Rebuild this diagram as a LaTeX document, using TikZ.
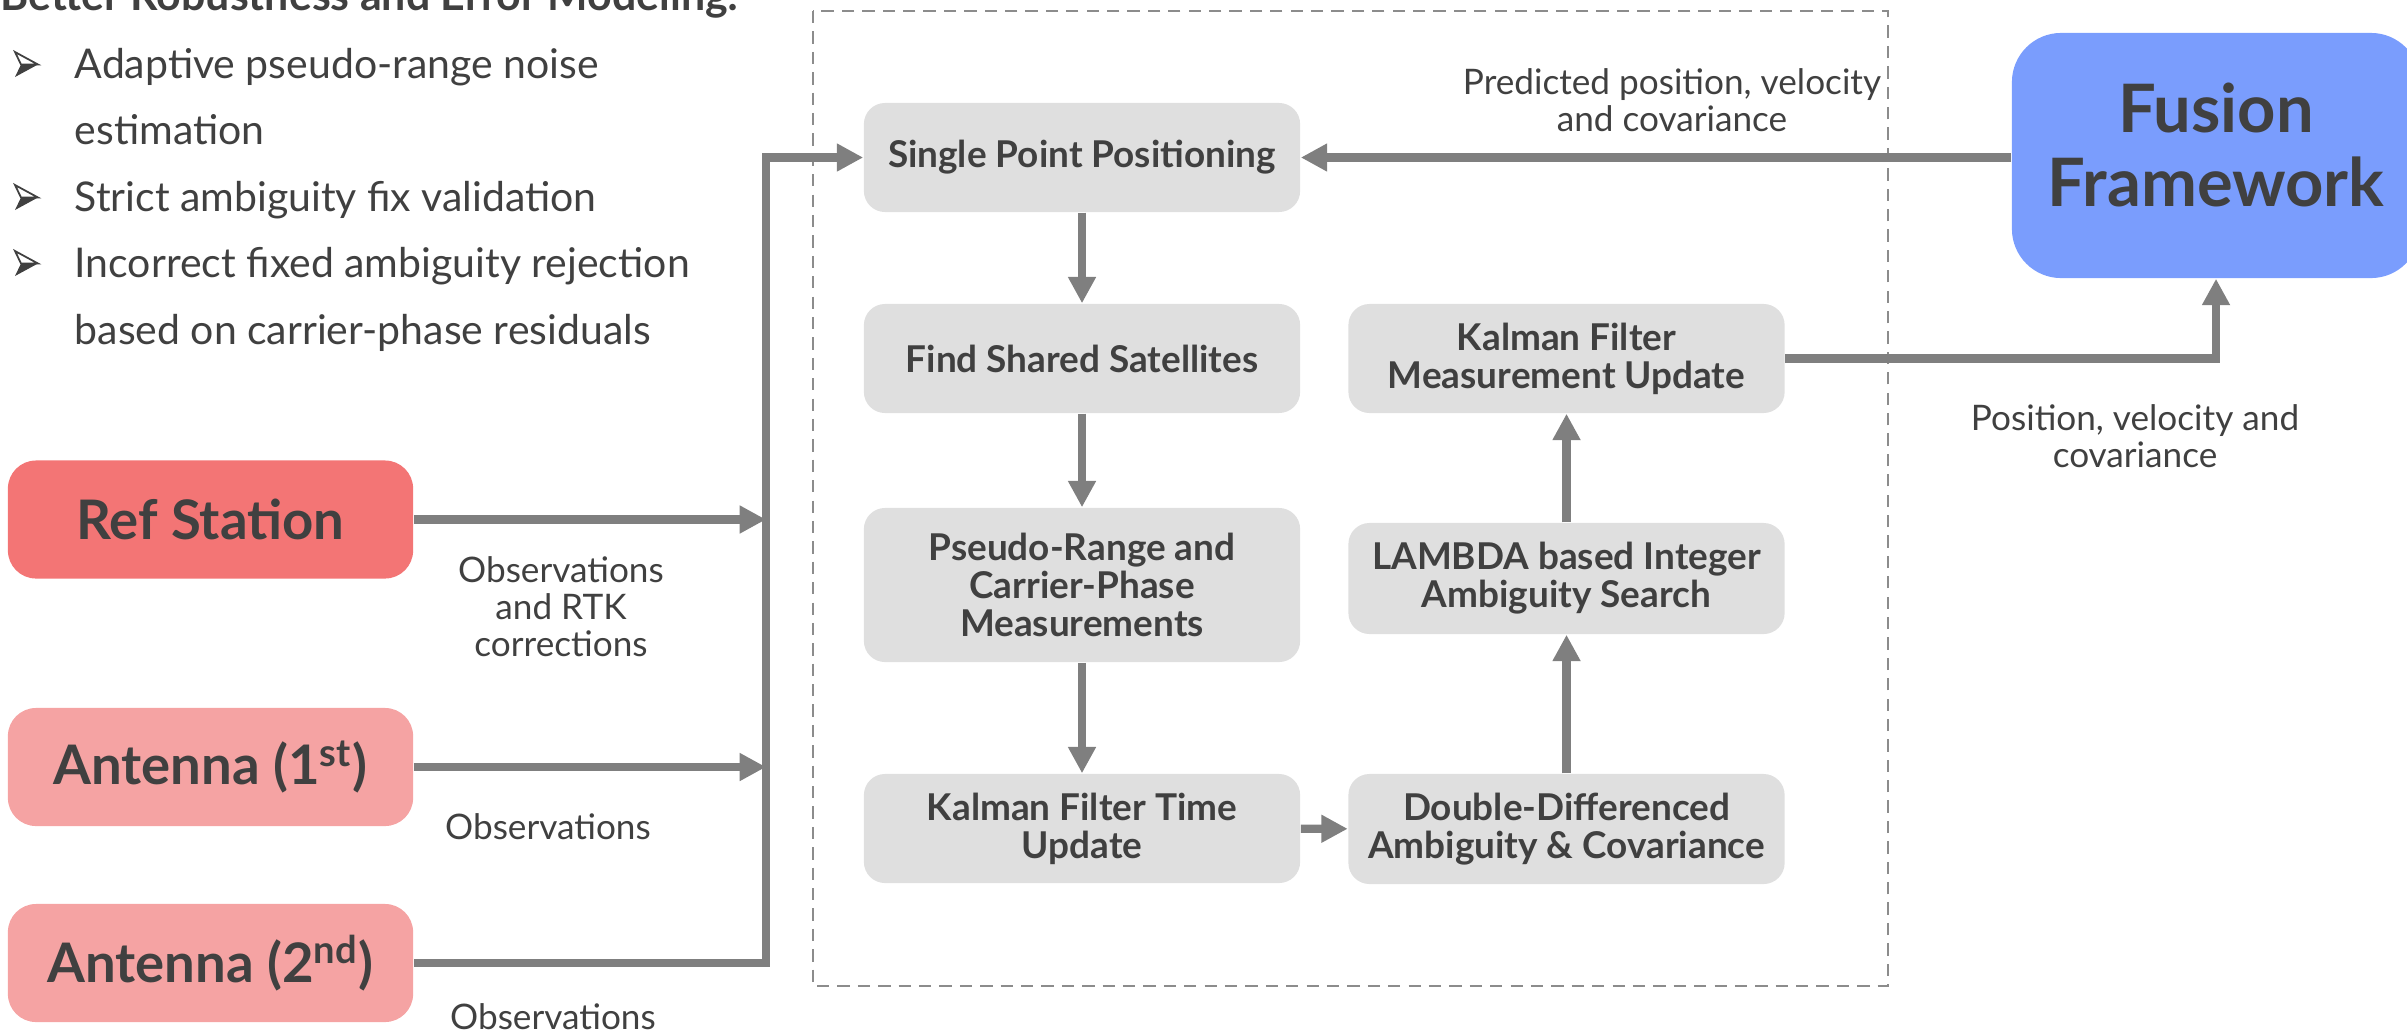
\documentclass[tikz,border=0pt]{standalone}
\usepackage{fontspec}
\setmainfont{Lato}
\usetikzlibrary{arrows.meta}
\definecolor{txt}{HTML}{404040}
\definecolor{arrowgray}{HTML}{7F7F7F}
\definecolor{dashgray}{HTML}{8C8C8C}
\definecolor{boxgray}{HTML}{DFDFDF}
\definecolor{refred}{HTML}{F37575}
\definecolor{antpink}{HTML}{F5A3A3}
\definecolor{fusionblue}{HTML}{7A9DFD}
\tikzset{
  procbox/.style={fill=boxgray, rounded corners=6pt, text=txt, align=center, inner sep=0pt,
    minimum width=4.36cm, font=\bfseries\fontsize{10.5pt}{10.8pt}\selectfont},
  srcbox/.style={rounded corners=8pt, text=txt, align=center, inner sep=0pt,
    minimum width=4.05cm, minimum height=1.18cm, font=\bfseries\fontsize{15.5pt}{18pt}\selectfont},
  arr/.style={draw=arrowgray, line width=2.4pt, -{Triangle[length=7.5pt,width=7.5pt]}},
  lbl/.style={text=txt, align=center, inner sep=0pt, font=\fontsize{10pt}{10.5pt}\selectfont},
  bul/.style={text=txt, anchor=base west, inner sep=0pt, font=\fontsize{11.65pt}{13pt}\selectfont},
  bulletmark/.pic={
    \draw[txt, line width=0.5pt, line join=miter, fill=white] (0,0) -- (23,12.5) -- (6,12.5) -- cycle;
    \fill[txt] (6,12.5) -- (23,12.5) -- (0,25) -- cycle;
  }
}
\begin{document}
\begin{tikzpicture}[x=0.01cm, y=-0.01cm]
\useasboundingbox (0,0) rectangle (2407,1030);

% heading and bullet list
\node[bul, font=\bfseries\fontsize{12.2pt}{13pt}\selectfont] (title) at (0,10) {Better Robustness and Error Modeling:};
\foreach \yb in {78,211,277} { \pic at (15,\yb-26) {bulletmark}; }
\node[bul] (b1) at (74,78) {Adaptive pseudo-range noise};
\node[bul] (b1b) at (74,144) {estimation};
\node[bul] (b2) at (74,211) {Strict ambiguity fix validation};
\node[bul] (b3) at (74,277) {Incorrect fixed ambiguity rejection};
\node[bul] (b3b) at (74,344) {based on carrier-phase residuals};

% processing block frame
\draw[draw=dashgray, line width=0.6pt, dash pattern=on 3.5pt off 2.3pt] (813,11) rectangle (1888,986);

% sources
\node[srcbox, fill=refred] (ref) at (210.5,519.5) {Ref Station};
\node[srcbox, fill=antpink] (ant1) at (210.5,767) {Antenna (1\textsuperscript{st})};
\node[srcbox, fill=antpink] (ant2) at (210.5,963) {Antenna (2\textsuperscript{nd})};

% fusion framework
\node[fill=fusionblue, rounded corners=14pt, inner sep=0pt,
  minimum width=4.08cm, minimum height=2.45cm] (fusion) at (2216,155.5) {};
\node[text=txt, align=center, inner sep=0pt,
  font=\bfseries\fontsize{19pt}{21pt}\selectfont] (fusiontxt) at (2216,145) {Fusion\\Framework};

% processing steps
\node[procbox, minimum height=1.09cm] (spp) at (1082,157.5) {Single Point Positioning};
\node[procbox, minimum height=1.09cm] (fss) at (1082,358.5) {Find Shared Satellites};
\node[procbox, minimum height=1.54cm] (prc) at (1082,585) {Pseudo-Range and\\Carrier-Phase\\Measurements};
\node[procbox, minimum height=1.09cm] (kft) at (1082,828.5) {Kalman Filter Time\\Update};
\node[procbox, minimum height=1.10cm] (dd) at (1566.5,829) {Double-Differenced\\Ambiguity \& Covariance};
\node[procbox, minimum height=1.11cm] (lam) at (1566.5,578.5) {LAMBDA based Integer\\Ambiguity Search};
\node[procbox, minimum height=1.09cm] (kfm) at (1566.5,358.5) {Kalman Filter\\Measurement Update};

% input bus
\coordinate (bustop) at (766,157.5);
\draw[arr] (ant2.east) -- (ant2.east -| bustop) -- (bustop) -- (spp.west);
\draw[arr] (ref.east) -- (ref.east -| bustop);
\draw[arr] (ant1.east) -- (ant1.east -| bustop);

% processing chain
\draw[arr] (spp) -- (fss);
\draw[arr] (fss) -- (prc);
\draw[arr] (prc) -- (kft);
\draw[arr] (kft) -- (dd);
\draw[arr] (dd) -- (lam);
\draw[arr] (lam) -- (kfm);

% exchange with the fusion framework
\draw[arr] (fusion.west |- spp.east) -- (spp.east);
\draw[arr] (kfm.east) -- (kfm.east -| fusion.south) -- (fusion.south);

% connector labels
\node[lbl] (lref) at (561,607) {Observations\\and RTK\\corrections};
\node[lbl] (lant1) at (548,827) {Observations};
\node[lbl] (lant2) at (553,1017) {Observations};
\node[lbl] (lpred) at (1672,100) {Predicted position, velocity\\and covariance};
\node[lbl] (lpos) at (2135,436) {Position, velocity and\\covariance};
\end{tikzpicture}
\end{document}
